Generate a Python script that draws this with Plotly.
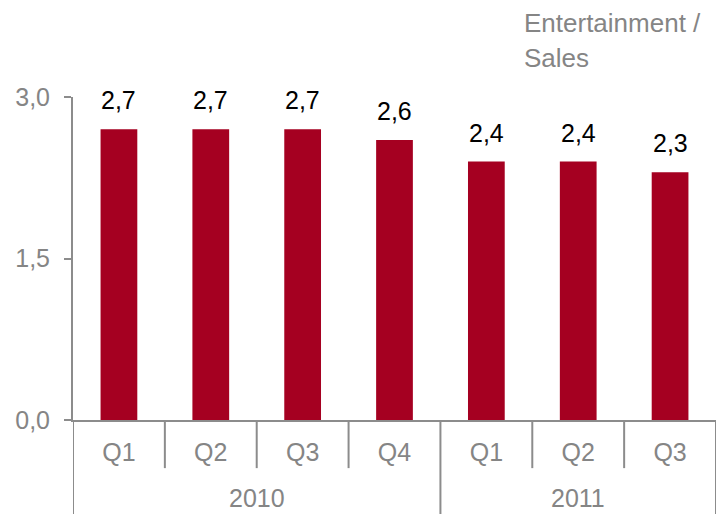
import plotly.graph_objects as go

quarters = ["Q1", "Q2", "Q3", "Q4", "Q1", "Q2", "Q3"]
years = ["2010", "2011"]
year_spans = [(0, 3), (4, 6)]          # first and last bar index for each year
values = [2.7, 2.7, 2.7, 2.6, 2.4, 2.4, 2.3]
y_ticks = [0.0, 1.5, 3.0]
title_lines = ["Entertainment /", "Sales"]

BAR = "#A50021"
GREY = "#8C8C8C"
TXT_GREY = "#858585"
FONT = "Liberation Sans, Arial, sans-serif"
FS = 25

xs = list(range(len(values)))

fig = go.Figure(go.Bar(
    x=xs, y=values, width=0.4, marker=dict(color=BAR, line=dict(width=0)),
    hoverinfo="skip",
))

# value labels above each bar
annotations = []
for x, v in zip(xs, values):
    annotations.append(dict(
        x=x, y=v, xref="x", yref="y", text=f"{v:.1f}".replace(".", ","),
        showarrow=False, yanchor="bottom", yshift=13,
        font=dict(family=FONT, size=FS, color="#000000"),
    ))

# year labels under the quarter row
for name, (a, b) in zip(years, year_spans):
    annotations.append(dict(
        x=(a + b) / 2, y=-0.243, xref="x", yref="paper", text=name,
        showarrow=False, yanchor="middle",
        font=dict(family=FONT, size=FS, color=TXT_GREY),
    ))

# axis title in the top-right corner
for i, line in enumerate(title_lines):
    annotations.append(dict(
        x=0.699, y=1.0, xref="paper", yref="paper", text=line,
        showarrow=False, xanchor="left", yanchor="top",
        yshift=97 - 6 - 35 * i,
        font=dict(family=FONT, size=26, color=TXT_GREY),
    ))

# category dividers below the axis
shapes = []
n = len(values)
year_edges = {-0.5, n - 0.5} | {b + 0.5 for _, b in year_spans}
for i in range(n + 1):
    edge = i - 0.5
    y_end = -0.291 if edge in year_edges else -0.149
    shapes.append(dict(type="line", xref="x", yref="paper",
                       x0=edge, x1=edge, y0=0, y1=y_end,
                       line=dict(color=GREY, width=2)))

fig.update_layout(
    width=722, height=514,
    margin=dict(l=73, r=6, t=97, b=94),
    paper_bgcolor="white", plot_bgcolor="white",
    showlegend=False,
    annotations=annotations,
    shapes=shapes,
    xaxis=dict(
        range=[-0.5, n - 0.5], tickvals=xs, ticktext=quarters,
        showline=True, linecolor=GREY, linewidth=2, ticks="",
        showgrid=False, zeroline=False, ticklabelstandoff=9,
        tickfont=dict(family=FONT, size=FS, color=TXT_GREY),
    ),
    yaxis=dict(
        range=[0, 3], tickvals=y_ticks,
        ticktext=[f"{t:.1f}".replace(".", ",") for t in y_ticks],
        showline=True, linecolor=GREY, linewidth=2,
        ticks="outside", ticklen=7, tickwidth=2, tickcolor=GREY,
        showgrid=False, zeroline=False, ticklabelstandoff=9,
        tickfont=dict(family=FONT, size=FS, color=TXT_GREY),
    ),
)

fig.write_html("out.html")
